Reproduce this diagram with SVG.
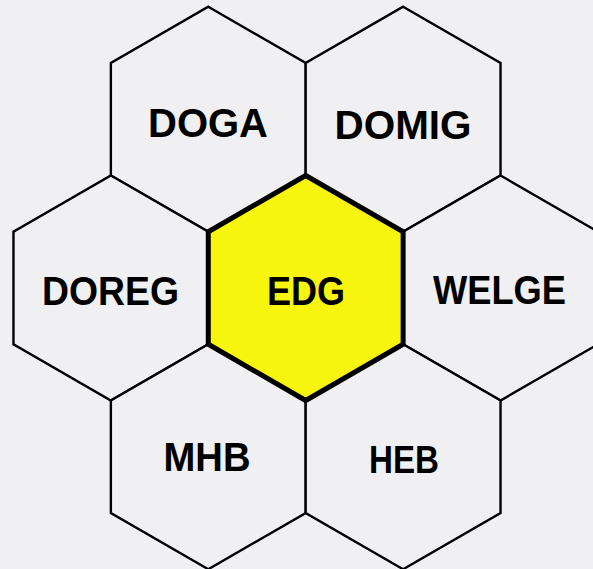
<svg xmlns="http://www.w3.org/2000/svg" xmlns:xlink="http://www.w3.org/1999/xlink" width="593" height="569" viewBox="0 0 593 569">
  <style>
    .hex { fill: #f0f0f2; stroke: #000000; stroke-width: 2.4; stroke-linejoin: miter; }
    .hex-main { fill: #f7f40e; stroke: #000000; stroke-width: 5; stroke-linejoin: miter; }
    .lbl { font-family: "Liberation Sans", Arial, sans-serif; font-weight: bold; font-size: 40px; fill: #000000; text-anchor: middle; }
  </style>
  <defs>
    <polygon id="hexshape" points="0,-112.5 97.43,-56.25 97.43,56.25 0,112.5 -97.43,56.25 -97.43,-56.25"/>
  </defs>
  <rect x="0" y="0" width="593" height="569" fill="#f0f0f2"/>
  <g id="connectors"></g>
  <g id="DOGA">
    <use xlink:href="#hexshape" href="#hexshape" class="hex" transform="translate(208.3,119.25)"/>
    <text class="lbl" x="208" y="137" textLength="120" lengthAdjust="spacingAndGlyphs">DOGA</text>
  </g>
  <g id="DOMIG">
    <use xlink:href="#hexshape" href="#hexshape" class="hex" transform="translate(403.1,119.25)"/>
    <text class="lbl" x="403" y="139" textLength="137" lengthAdjust="spacingAndGlyphs">DOMIG</text>
  </g>
  <g id="DOREG">
    <use xlink:href="#hexshape" href="#hexshape" class="hex" transform="translate(110.9,288)"/>
    <text class="lbl" x="110.5" y="305" textLength="137" lengthAdjust="spacingAndGlyphs">DOREG</text>
  </g>
  <g id="WELGE">
    <use xlink:href="#hexshape" href="#hexshape" class="hex" transform="translate(500.5,288)"/>
    <text class="lbl" x="499.5" y="304" textLength="133" lengthAdjust="spacingAndGlyphs">WELGE</text>
  </g>
  <g id="MHB">
    <use xlink:href="#hexshape" href="#hexshape" class="hex" transform="translate(208.3,456.75)"/>
    <text class="lbl" x="207" y="471" textLength="87" lengthAdjust="spacingAndGlyphs">MHB</text>
  </g>
  <g id="HEB">
    <use xlink:href="#hexshape" href="#hexshape" class="hex" transform="translate(403.1,456.75)"/>
    <text class="lbl" x="404" y="473" textLength="70" lengthAdjust="spacingAndGlyphs" style="font-size:38px">HEB</text>
  </g>
  <g id="EDG">
    <use xlink:href="#hexshape" href="#hexshape" class="hex-main" transform="translate(305.7,288)"/>
    <text class="lbl" x="306" y="305" textLength="78" lengthAdjust="spacingAndGlyphs">EDG</text>
  </g>
</svg>
